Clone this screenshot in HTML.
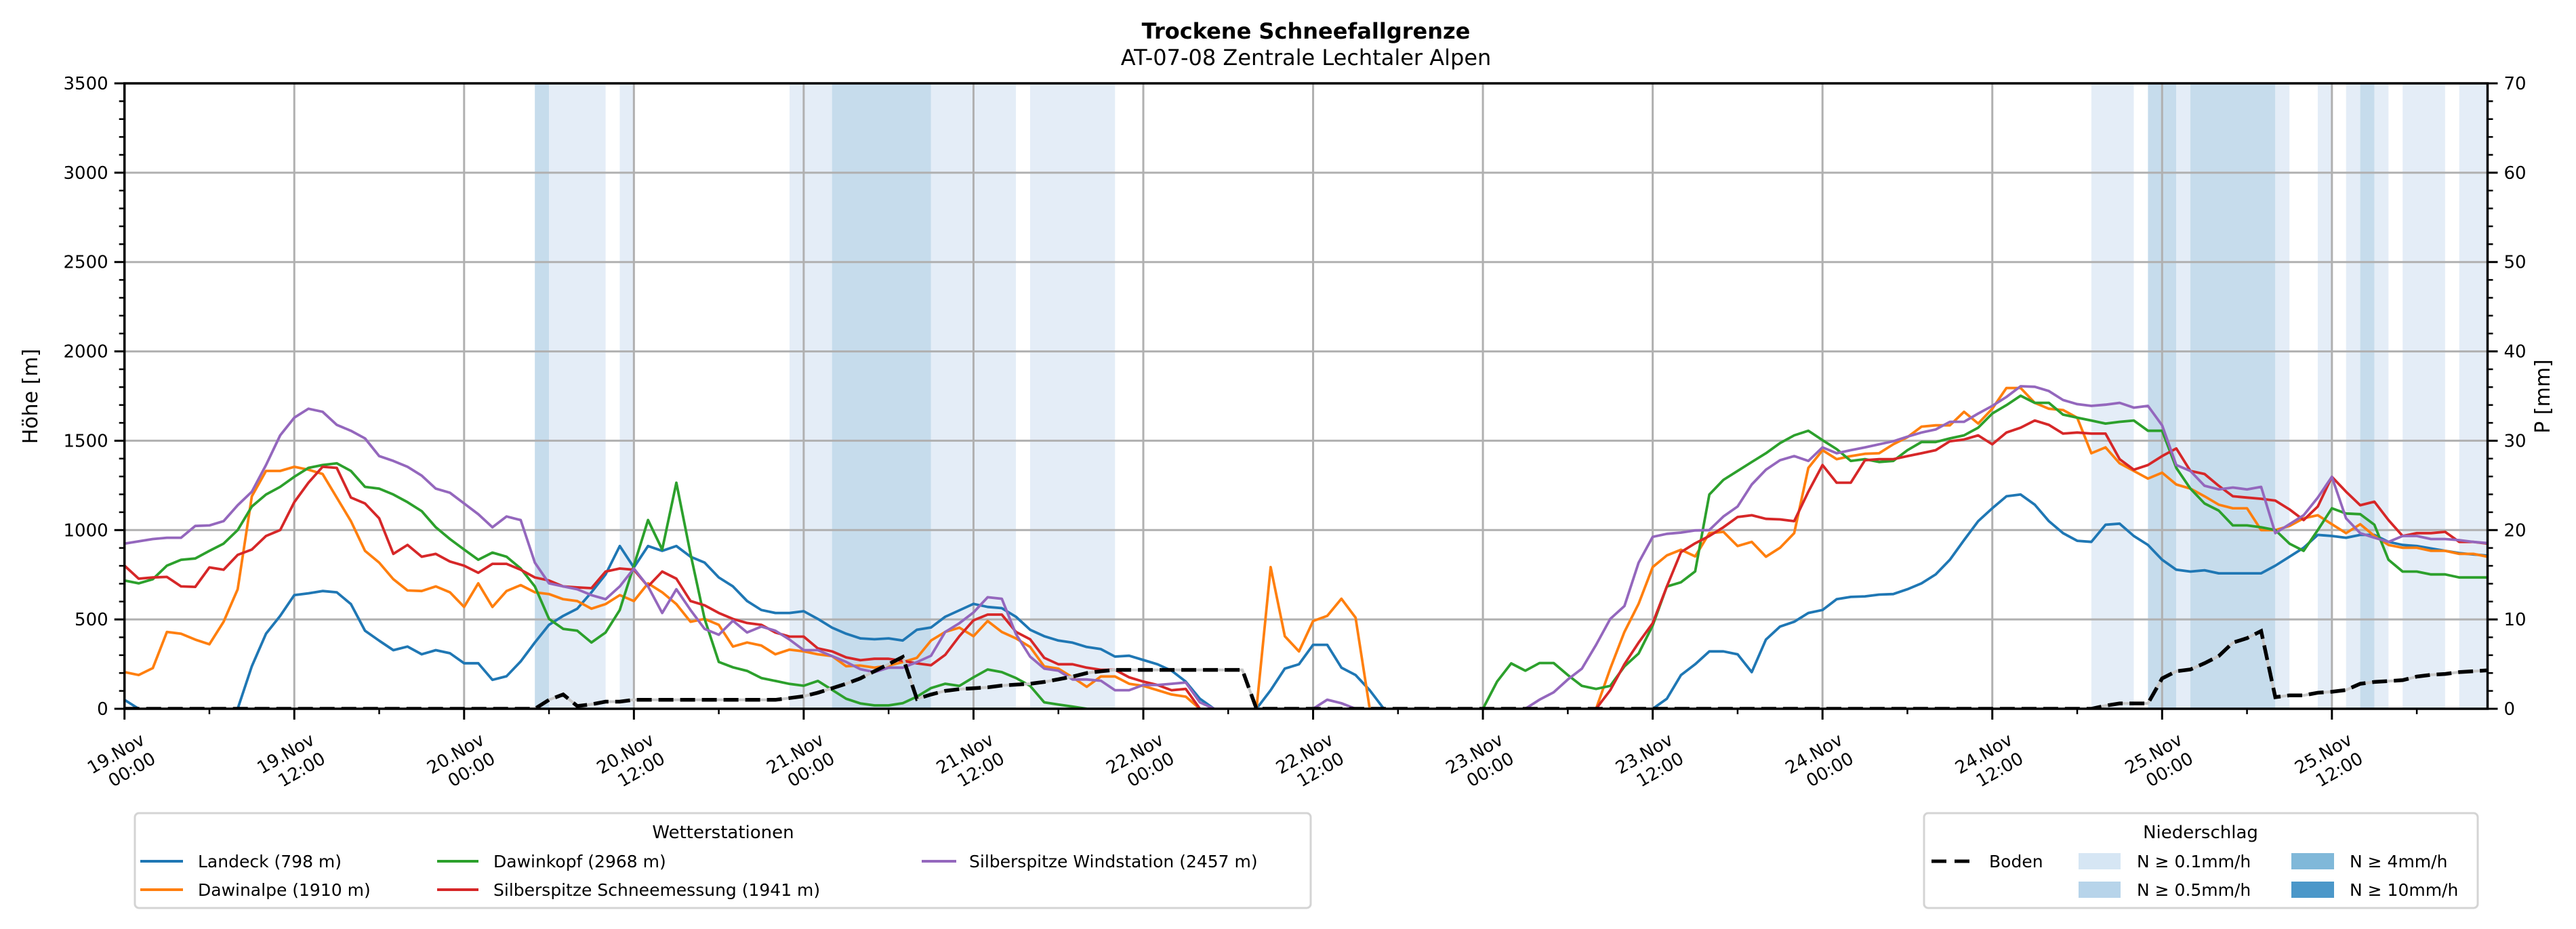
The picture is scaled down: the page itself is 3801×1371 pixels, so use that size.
<!DOCTYPE html>
<html><head><meta charset="utf-8"><style>
html,body{margin:0;padding:0;background:#fff;}
svg{display:block;font-family:"DejaVu Sans","Liberation Sans",sans-serif;}
</style></head><body>
<svg id="chart" xmlns="http://www.w3.org/2000/svg" width="3801" height="1371" viewBox="0 0 3801 1371">
<rect width="3801" height="1371" fill="#fff"/>
<text x="1927" y="57" text-anchor="middle" font-size="32" font-weight="bold">Trockene Schneefallgrenze</text>
<text x="1927" y="96" text-anchor="middle" font-size="32">AT-07-08 Zentrale Lechtaler Alpen</text>
<g id="bands"></g>
<g id="grid"></g>
<g id="series"></g>
<g id="axes"></g>
<text transform="translate(55,585) rotate(-90)" text-anchor="middle" font-size="30">Höhe [m]</text>
<text transform="translate(3762,585) rotate(-90)" text-anchor="middle" font-size="30">P [mm]</text>
<g>
<rect x="199" y="1200" width="1735" height="140" rx="6" fill="#fff" stroke="#d4d4d4" stroke-width="3"/>
<text x="1067" y="1237" text-anchor="middle" font-size="26">Wetterstationen</text>
<g><line x1="207" y1="1271" x2="270" y2="1271" stroke="#1f77b4" stroke-width="4"/><text x="292" y="1280" font-size="25">Landeck (798 m)</text></g>
<g><line x1="207" y1="1313" x2="270" y2="1313" stroke="#ff7f0e" stroke-width="4"/><text x="292" y="1322" font-size="25">Dawinalpe (1910 m)</text></g>
<g><line x1="645" y1="1271" x2="706" y2="1271" stroke="#2ca02c" stroke-width="4"/><text x="728" y="1280" font-size="25">Dawinkopf (2968 m)</text></g>
<g><line x1="645" y1="1313" x2="706" y2="1313" stroke="#d62728" stroke-width="4"/><text x="728" y="1322" font-size="25">Silberspitze Schneemessung (1941 m)</text></g>
<g><line x1="1360" y1="1271" x2="1411" y2="1271" stroke="#9467bd" stroke-width="4"/><text x="1430" y="1280" font-size="25">Silberspitze Windstation (2457 m)</text></g>
</g>
<g>
<rect x="2839" y="1200" width="817" height="140" rx="6" fill="#fff" stroke="#d4d4d4" stroke-width="3"/>
<text x="3247" y="1237" text-anchor="middle" font-size="26">Niederschlag</text>
<g><line x1="2850" y1="1271" x2="2908" y2="1271" stroke="#000" stroke-width="5" stroke-dasharray="22 12"/><text x="2935" y="1280" font-size="25">Boden</text></g>
<g><rect x="3067" y="1259" width="62" height="24" fill="#d6e6f4"/><text x="3153" y="1280" font-size="25">N ≥ 0.1mm/h</text></g>
<g><rect x="3067" y="1301" width="62" height="24" fill="#b7d4ea"/><text x="3153" y="1322" font-size="25">N ≥ 0.5mm/h</text></g>
<g><rect x="3381" y="1259" width="63" height="24" fill="#80b8d9"/><text x="3467" y="1280" font-size="25">N ≥ 4mm/h</text></g>
<g><rect x="3381" y="1301" width="63" height="24" fill="#4b97c9"/><text x="3467" y="1322" font-size="25">N ≥ 10mm/h</text></g>
</g>
</svg>
<script>
const landeck=[50,0,null,null,null,null,null,null,0,238,
420,520,636,646,659,652,586,437,381,328,
348,305,328,311,255,255,162,182,265,371,
470,520,560,652,752,911,791,911,884,911,
851,818,735,685,603,553,536,536,546,503,
454,420,394,389,394,382,442,455,515,551,
587,570,563,515,442,406,382,370,346,334,
292,297,273,249,213,152,56,0,null,null,
0,104,225,249,358,358,230,189,104,0,
null,null,null,null,null,null,null,null,null,null,
null,null,null,null,null,null,null,null,0,56,
189,249,321,321,305,205,387,460,487,536,
553,613,626,629,639,642,669,702,752,834,
944,1050,1122,1189,1199,1142,1050,983,940,934,
1030,1036,967,917,834,778,768,775,758,758,
758,758,801,851,901,973,967,957,973,973,
934,917,911,897,884,871,864,857];
const dawinalpe=[205,189,228,430,420,387,361,487,669,1189,
1331,1331,1354,1338,1314,1182,1050,884,818,725,
662,659,685,652,570,702,570,659,692,652,
642,613,603,560,586,636,603,702,652,586,
487,503,470,348,371,354,305,331,321,305,
295,238,242,230,242,261,285,382,430,454,
406,491,430,394,346,237,225,176,123,181,
181,140,128,104,80,68,0,null,null,null,
0,793,406,321,491,520,616,510,0,null,
null,null,null,null,null,null,null,null,null,null,
null,null,null,null,0,225,430,587,793,858,
890,853,983,990,911,934,851,901,983,1348,
1447,1397,1414,1427,1430,1480,1520,1579,1586,1586,
1662,1596,1679,1795,1795,1712,1679,1672,1629,1430,
1463,1374,1331,1288,1321,1255,1232,1189,1142,1122,
1122,1000,1000,1023,1066,1083,1033,983,1033,967,
917,901,901,884,884,867,867,851];
const dawinkopf=[718,702,725,801,834,841,884,924,1000,1132,
1199,1242,1298,1348,1364,1374,1331,1242,1232,1199,
1156,1106,1016,950,891,834,874,851,785,685,
503,447,437,371,427,553,801,1056,891,1265,
867,503,262,232,212,172,156,139,129,156,
106,56,30,19,19,31,68,116,140,128,
176,220,205,172,128,36,24,12,0,null,
null,null,null,null,null,null,null,null,null,null,
null,null,null,null,null,null,null,null,null,null,
null,null,null,null,null,null,0,152,254,213,
256,256,189,128,111,128,237,309,466,684,
708,769,1199,1281,1331,1381,1430,1487,1530,1556,
1503,1453,1387,1397,1381,1387,1447,1493,1493,1513,
1530,1573,1652,1699,1752,1712,1712,1646,1629,1613,
1596,1606,1613,1556,1556,1348,1232,1149,1109,1026,
1026,1016,1000,924,884,1000,1122,1093,1089,1030,
834,768,768,752,752,735,735,735];
const silberSchnee=[801,728,735,738,685,682,791,778,861,891,
967,1000,1156,1265,1354,1348,1182,1149,1066,867,
917,851,867,824,801,761,811,811,778,735,
718,685,679,675,768,785,778,685,768,728,
603,579,536,503,480,470,427,404,404,338,
321,288,272,280,280,268,254,244,302,406,
495,527,527,430,389,285,249,249,230,218,
218,176,152,133,104,111,0,null,null,null,
null,null,null,null,null,null,null,null,null,null,
null,null,null,null,null,null,null,null,null,null,
null,null,null,null,0,104,249,370,479,684,
877,926,967,1016,1073,1083,1063,1060,1050,1215,
1364,1265,1265,1391,1397,1397,1414,1430,1447,1497,
1507,1530,1480,1546,1573,1613,1589,1540,1546,1540,
1540,1397,1338,1364,1414,1457,1331,1314,1248,1189,
1182,1175,1165,1116,1056,1132,1298,1215,1139,1159,
1056,967,983,983,990,934,934,924];
const silberWind=[924,937,950,957,957,1023,1026,1050,1139,1215,
1364,1530,1629,1679,1662,1589,1556,1513,1414,1387,
1354,1305,1232,1209,1149,1089,1016,1076,1056,818,
702,685,669,636,613,685,785,685,536,669,
553,447,414,493,427,460,437,387,328,328,
295,262,222,205,230,230,261,297,430,479,
539,624,616,418,292,225,213,164,164,157,
104,104,133,133,140,147,36,0,null,null,
null,null,null,null,0,51,31,0,null,null,
null,null,null,null,null,null,null,null,null,0,
51,92,164,225,358,503,575,817,962,979,
986,998,1000,1076,1132,1255,1338,1391,1414,1387,
1463,1430,1447,1463,1480,1497,1523,1546,1563,1606,
1606,1652,1695,1745,1805,1802,1778,1728,1705,1695,
1702,1712,1685,1695,1586,1364,1331,1248,1228,1238,
1228,1242,983,1033,1083,1182,1298,1066,983,957,
934,967,967,950,950,944,934,927];
const bodenMm=[0,0,0,0,0,0,0,0,0,0,
0,0,0,0,0,0,0,0,0,0,
0,0,0,0,0,0,0,0,0,0,
1.0,1.6,0.3,0.5,0.8,0.8,1.0,1.0,1.0,1.0,
1.0,1.0,1.0,1.0,1.0,1.0,1.0,1.2,1.4,1.8,
2.3,2.8,3.4,4.2,5.0,5.8,1.1,1.6,2.0,2.2,
2.3,2.4,2.6,2.7,2.8,3.0,3.3,3.6,4.0,4.2,
4.35,4.35,4.35,4.35,4.35,4.35,4.35,4.35,4.35,4.35,
0,0,0,0,0,0,0,0,0,0,
0,0,0,0,0,0,0,0,0,0,
0,0,0,0,0,0,0,0,0,0,
0,0,0,0,0,0,0,0,0,0,
0,0,0,0,0,0,0,0,0,0,
0,0,0,0,0,0,0,0,0,0,
0.35,0.6,0.6,0.6,3.4,4.2,4.4,5.1,5.9,7.4,
7.9,8.7,1.3,1.5,1.5,1.8,1.9,2.1,2.8,3.0,
3.1,3.2,3.6,3.8,3.9,4.1,4.2,4.3];
const bandStart=[29,30,35,47,50,57,64,139,143,145,146,152,155,157,158,159,161,165];
const bandEnd=[30,34,36,50,57,63,70,142,145,146,152,153,156,158,159,160,164,167];
const bandLevel=[1,0,0,0,1,0,0,0,1,0,1,0,0,0,1,0,0,0];
const xTickHours=[0,12,24,36,48,60,72,84,96,108,120,132,144,156];
const xTickDays=['19.Nov','19.Nov','20.Nov','20.Nov','21.Nov','21.Nov','22.Nov','22.Nov','23.Nov','23.Nov','24.Nov','24.Nov','25.Nov','25.Nov'];
const xTickTimes=['00:00','12:00','00:00','12:00','00:00','12:00','00:00','12:00','00:00','12:00','00:00','12:00','00:00','12:00'];
const yTicks=[0,500,1000,1500,2000,2500,3000,3500];
const y2Ticks=[0,10,20,30,40,50,60,70];

const NS='http://www.w3.org/2000/svg';
const X0=183.7,X1=3670.5,Y0=1046,Y1=123,HMAX=167,YMAX=3500,PMAX=70;
const xs=h=>X0+h*(X1-X0)/HMAX;
const ys=v=>Y0-v/YMAX*(Y0-Y1);
const yp=v=>Y0-v/PMAX*(Y0-Y1);
function mk(tag,attrs,parent){const e=document.createElementNS(NS,tag);for(const k in attrs)e.setAttribute(k,attrs[k]);parent.appendChild(e);return e;}

const bands=document.getElementById('bands');
const bandColors=['#e4edf7','#c6dcec'];
for(let i=0;i<bandStart.length;i++){
  const r=mk('rect',{x:xs(bandStart[i]),y:Y1,width:xs(bandEnd[i])-xs(bandStart[i]),height:Y0-Y1,fill:bandColors[bandLevel[i]]},bands);
  
  
}
const grid=document.getElementById('grid');
xTickHours.forEach(h=>{const l=mk('line',{x1:xs(h),x2:xs(h),y1:Y1,y2:Y0,stroke:'#b0b0b0','stroke-width':3},grid);
  
  });
yTicks.forEach(v=>{const l=mk('line',{x1:X0,x2:X1,y1:ys(v),y2:ys(v),stroke:'#b0b0b0','stroke-width':3},grid);
  
  });

const series=document.getElementById('series');
const clip=mk('clipPath',{id:'pc'},mk('defs',{},document.getElementById('chart')));
mk('rect',{x:X0,y:Y1-5,width:X1-X0,height:Y0-Y1+5},clip);
function pathFor(arr,yf){let d='',pen=false;arr.forEach((v,i)=>{if(v===null){pen=false;return;}d+=(pen?'L':'M')+xs(i).toFixed(1)+' '+yf(v).toFixed(1)+' ';pen=true;});return d;}
const defs=[[landeck,'#1f77b4','line-landeck'],[dawinalpe,'#ff7f0e','line-dawinalpe'],[dawinkopf,'#2ca02c','line-dawinkopf'],[silberSchnee,'#d62728','line-silberspitze-schnee'],[silberWind,'#9467bd','line-silberspitze-wind']];
defs.forEach(([arr,c,n])=>{const p=mk('path',{d:pathFor(arr,ys),fill:'none',stroke:c,'stroke-width':3.8,'stroke-linejoin':'round','clip-path':'url(#pc)'},series);
  
  });
const bg=mk('path',{d:pathFor(bodenMm,yp),fill:'none',stroke:'#c8c8c8','stroke-width':4,'clip-path':'url(#pc)'},series);


const bd=mk('path',{d:pathFor(bodenMm,yp),fill:'none',stroke:'#000','stroke-width':5.5,'stroke-dasharray':'22 10','clip-path':'url(#pc)'},series);



const axes=document.getElementById('axes');
mk('rect',{x:X0,y:Y1,width:X1-X0,height:Y0-Y1,fill:'none',stroke:'#000','stroke-width':3.5},axes);
yTicks.forEach(v=>{mk('line',{x1:X0-15,x2:X0,y1:ys(v),y2:ys(v),stroke:'#000','stroke-width':3},axes);
  const t=mk('text',{x:X0-24,y:ys(v)+9,'text-anchor':'end','font-size':26},axes);t.textContent=v;
  
  });
for(let v=100;v<YMAX;v+=100){if(v%500)mk('line',{x1:X0-8,x2:X0,y1:ys(v),y2:ys(v),stroke:'#000','stroke-width':2.5},axes);}
y2Ticks.forEach(v=>{mk('line',{x1:X1,x2:X1+15,y1:yp(v),y2:yp(v),stroke:'#000','stroke-width':3},axes);
  const t=mk('text',{x:X1+24,y:yp(v)+9,'font-size':26},axes);t.textContent=v;
  
  });
for(let v=2;v<PMAX;v+=2){if(v%10)mk('line',{x1:X1,x2:X1+8,y1:yp(v),y2:yp(v),stroke:'#000','stroke-width':2.5},axes);}
for(let h=6;h<HMAX;h+=12){mk('line',{x1:xs(h),x2:xs(h),y1:Y0,y2:Y0+8,stroke:'#000','stroke-width':2.5},axes);}
xTickHours.forEach((h,i)=>{mk('line',{x1:xs(h),x2:xs(h),y1:Y0,y2:Y0+16,stroke:'#000','stroke-width':3},axes);
  const g=mk('g',{transform:'translate('+xs(h).toFixed(1)+','+Y0+') rotate(-30)'},axes);
  
  
  const t1=mk('text',{x:2,y:60,'text-anchor':'end','font-size':26},g);t1.textContent=xTickDays[i];
  const t2=mk('text',{x:2,y:92,'text-anchor':'end','font-size':26},g);t2.textContent=xTickTimes[i];
});
</script>
</body></html>
